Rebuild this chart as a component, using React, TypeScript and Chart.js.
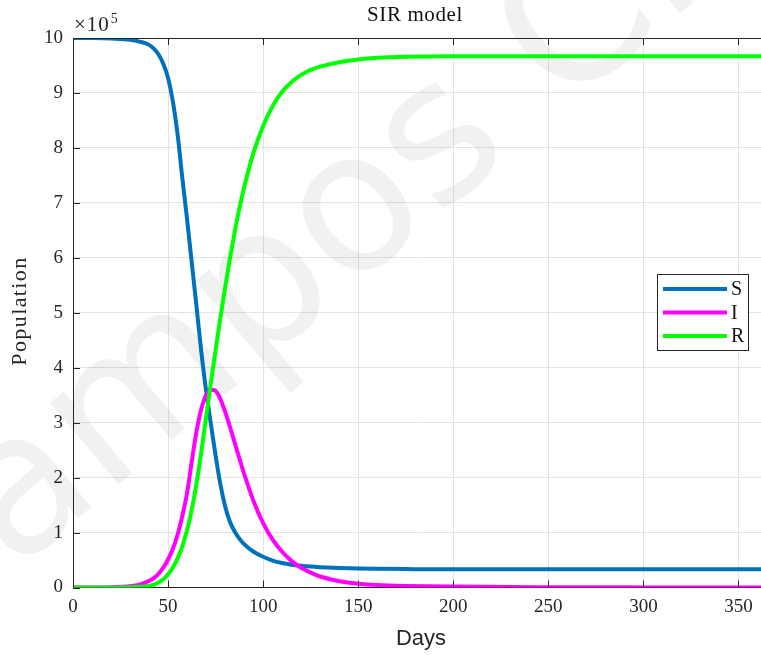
import React, { useEffect, useRef } from "react";
import { Chart, registerables } from "chart.js";

Chart.register(...registerables);

// Days sampled along the simulation
const days = [
  0, 10, 20, 30, 35, 40, 42.5, 45, 47.5, 50, 52.5, 55, 57.5, 60, 62.5, 65, 67.5, 70,
  72.5, 75, 77.5, 80, 82.5, 85, 87.5, 90, 95, 100, 105, 110, 115, 120, 125, 130, 140,
  150, 160, 175, 200, 250, 300, 365,
];

// Population values in units of 10^5
const susceptible = [
  10.0, 9.998, 9.99, 9.97, 9.935, 9.875, 9.805, 9.7, 9.53, 9.27, 8.85, 8.25, 7.45, 6.7,
  5.9, 5.1, 4.28, 3.58, 2.98, 2.4, 1.88, 1.48, 1.2, 1.02, 0.89, 0.79, 0.65, 0.56, 0.49,
  0.445, 0.415, 0.395, 0.38, 0.37, 0.355, 0.345, 0.34, 0.335, 0.33, 0.33, 0.33, 0.33,
];
const infected = [
  0.0, 0.001, 0.006, 0.022, 0.05, 0.12, 0.17, 0.25, 0.36, 0.51, 0.7, 0.96, 1.3, 1.72, 2.3,
  2.85, 3.25, 3.5, 3.6, 3.58, 3.43, 3.2, 2.93, 2.64, 2.35, 2.07, 1.57, 1.17, 0.87, 0.65,
  0.48, 0.36, 0.27, 0.2, 0.115, 0.07, 0.045, 0.028, 0.016, 0.006, 0.002, 0.001,
];
const recovered = [
  0.0, 0.0, 0.001, 0.005, 0.012, 0.03, 0.05, 0.09, 0.15, 0.24, 0.36, 0.53, 0.75, 1.04,
  1.42, 1.9, 2.47, 3.1, 3.72, 4.32, 4.9, 5.46, 5.98, 6.46, 6.9, 7.28, 7.92, 8.4, 8.76,
  9.02, 9.2, 9.33, 9.42, 9.48, 9.56, 9.61, 9.64, 9.66, 9.67, 9.67, 9.67, 9.67,
];

const seriesLabels = ["S", "I", "R"];
const seriesColors = ["#0072BD", "#FF00FF", "#00FF00"];

const xTickValues = [0, 50, 100, 150, 200, 250, 300, 350];
const yTickValues = [0, 1, 2, 3, 4, 5, 6, 7, 8, 9, 10];

const titleText = "SIR model";
const xTitle = "Days";
const yTitle = "Population";
const watermarkText = "ampos Cr";

const SERIF = '"Liberation Serif", "Times New Roman", serif';
const SANS = '"Liberation Sans", Arial, sans-serif';
const AXIS_COLOR = "#262626";

const decorPlugin = {
  id: "decor",
  beforeDatasetsDraw(chart: any) {
    const ctx = chart.ctx;
    ctx.save();
    ctx.translate(338, 234);
    ctx.rotate((-40 * Math.PI) / 180);
    ctx.font = `195px "DejaVu Sans", sans-serif`;
    ctx.fillStyle = "rgba(0,0,0,0.055)";
    ctx.textAlign = "center";
    ctx.textBaseline = "middle";
    ctx.fillText(watermarkText, 0, 0);
    ctx.restore();
  },
  afterDraw(chart: any) {
    const ctx = chart.ctx;
    const { left, right, top, bottom } = chart.chartArea;
    const xs = chart.scales.x;
    const ys = chart.scales.y;
    ctx.save();
    // box top line
    ctx.strokeStyle = AXIS_COLOR;
    ctx.lineWidth = 1;
    ctx.beginPath();
    ctx.moveTo(left, Math.round(top) + 0.5);
    ctx.lineTo(right, Math.round(top) + 0.5);
    ctx.stroke();
    // inward ticks
    ctx.beginPath();
    xTickValues.forEach((v) => {
      const px = Math.round(xs.getPixelForValue(v)) + 0.5;
      ctx.moveTo(px, bottom);
      ctx.lineTo(px, bottom - 7);
      ctx.moveTo(px, top);
      ctx.lineTo(px, top + 7);
    });
    yTickValues.forEach((v) => {
      const py = Math.round(ys.getPixelForValue(v)) + 0.5;
      ctx.moveTo(left, py);
      ctx.lineTo(left + 7, py);
    });
    ctx.stroke();

    // exponent label
    ctx.fillStyle = AXIS_COLOR;
    ctx.textAlign = "left";
    ctx.textBaseline = "alphabetic";
    ctx.font = `21px ${SERIF}`;
    (ctx as any).letterSpacing = "1px";
    const base = "\u00d710";
    ctx.fillText(base, left + 1, 31);
    const w = ctx.measureText(base).width;
    (ctx as any).letterSpacing = "0px";
    ctx.font = `14px ${SERIF}`;
    ctx.fillText("5", left + 2 + w, 23);

    // title
    ctx.fillStyle = "#111111";
    ctx.textAlign = "center";
    ctx.textBaseline = "middle";
    ctx.font = `21px ${SERIF}`;
    (ctx as any).letterSpacing = "0.6px";
    ctx.fillText(titleText, 415, 15);
    (ctx as any).letterSpacing = "0px";

    // x title
    ctx.fillStyle = AXIS_COLOR;
    ctx.font = `22px ${SANS}`;
    ctx.fillText(xTitle, 421, 639);

    // y title
    ctx.save();
    ctx.translate(20, 311);
    ctx.rotate(-Math.PI / 2);
    ctx.font = `22px ${SERIF}`;
    (ctx as any).letterSpacing = "1.4px";
    ctx.fillText(yTitle, 0, 0);
    (ctx as any).letterSpacing = "0px";
    ctx.restore();

    // legend
    const bx = 657.5, by = 274.5, bw = 91, bh = 76;
    ctx.fillStyle = "#ffffff";
    ctx.fillRect(bx, by, bw, bh);
    ctx.strokeStyle = AXIS_COLOR;
    ctx.lineWidth = 1;
    ctx.strokeRect(bx, by, bw, bh);
    const rows = [289, 312.5, 336];
    chart.data.datasets.forEach((ds: any, i: number) => {
      const y = rows[i];
      ctx.strokeStyle = ds.borderColor;
      ctx.lineWidth = 4;
      ctx.beginPath();
      ctx.moveTo(663, y);
      ctx.lineTo(727, y);
      ctx.stroke();
      ctx.fillStyle = "#111111";
      ctx.textAlign = "left";
      ctx.textBaseline = "middle";
      ctx.font = `20px ${SERIF}`;
      ctx.fillText(ds.label, 731, y + 1);
    });
    ctx.restore();
  },
};

export default function App() {
  const canvasRef = useRef<HTMLCanvasElement | null>(null);

  useEffect(() => {
    const canvas = canvasRef.current;
    if (!canvas) return;
    const seriesValues = [susceptible, infected, recovered];
    const datasets = seriesValues.map((vals, i) => ({
      label: seriesLabels[i],
      data: days.map((d, j) => ({ x: d, y: vals[j] })),
      borderColor: seriesColors[i],
      backgroundColor: seriesColors[i],
      borderWidth: 4,
      pointRadius: 0,
      fill: false,
      cubicInterpolationMode: "monotone" as const,
      order: 2 - i,
    }));

    const chart = new Chart(canvas, {
      type: "line",
      data: { datasets },
      options: {
        animation: false,
        responsive: false,
        devicePixelRatio: 1,
        layout: { padding: { left: 0, right: 4, top: 38, bottom: 0 } },
        plugins: {
          legend: { display: false },
          title: { display: false },
          tooltip: { enabled: false },
        },
        scales: {
          x: {
            type: "linear",
            min: 0,
            max: 365,
            afterBuildTicks: (s: any) => {
              s.ticks = xTickValues.map((v) => ({ value: v }));
            },
            afterFit: (s: any) => {
              s.height = 67.5;
            },
            ticks: {
              autoSkip: false,
              maxRotation: 0,
              padding: 8,
              color: AXIS_COLOR,
              font: { family: SERIF, size: 19 },
              callback: (v: any) => String(v),
            },
            grid: { color: "#e3e3e3", drawTicks: false, lineWidth: 1 },
            border: { color: AXIS_COLOR, width: 1 },
          },
          y: {
            type: "linear",
            min: 0,
            max: 10,
            afterBuildTicks: (s: any) => {
              s.ticks = yTickValues.map((v) => ({ value: v }));
            },
            afterFit: (s: any) => {
              s.width = 73;
            },
            ticks: {
              autoSkip: false,
              padding: 10,
              color: AXIS_COLOR,
              font: { family: SERIF, size: 19 },
              callback: (v: any) => String(v),
            },
            grid: { color: "#e3e3e3", drawTicks: false, lineWidth: 1 },
            border: { color: AXIS_COLOR, width: 1 },
          },
        },
      },
      plugins: [decorPlugin],
    } as any);

    return () => {
      chart.destroy();
    };
  }, []);

  return (
    <div
      style={{
        position: "fixed",
        left: 0,
        top: 0,
        width: 761,
        height: 655,
        overflow: "hidden",
        background: "#ffffff",
      }}
    >
      <canvas
        ref={canvasRef}
        width={771}
        height={655}
        style={{ width: 771, height: 655, display: "block" }}
      />
    </div>
  );
}
